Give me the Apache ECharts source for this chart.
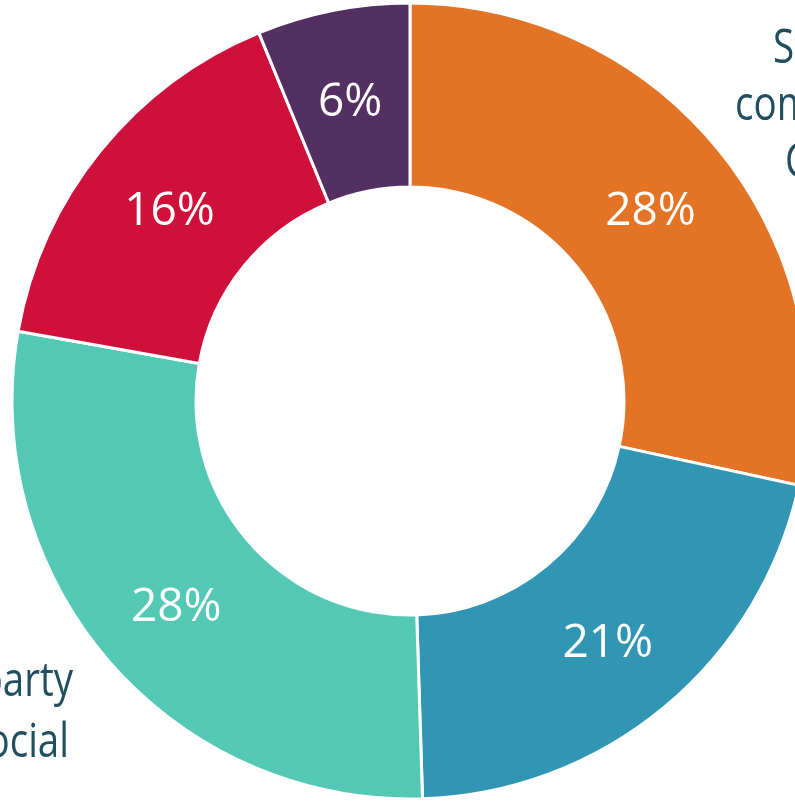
<!DOCTYPE html>
<html>
<head>
<meta charset="utf-8">
<script src="https://cdn.jsdelivr.net/npm/echarts@6/dist/echarts.min.js"></script>
<style>
html,body{margin:0;padding:0;background:#fff;}
#chart{width:795px;height:801px;}
</style>
</head>
<body>
<div id="chart"></div>
<script>
var categories = ['Stand-alone commercial CRM', 'Integrated platform', 'Third party social', 'In-house built', 'Other'];
var values = [28.4, 21.1, 28.3, 16.0, 6.2];
var colors = ['#E37325', '#3196B4', '#53C9B5', '#CF103B', '#532F62'];
var outerLabelLinesTR = ['Stand-alone', 'commercial', 'CRM'];
var outerLabelLinesBL = ['Third party', 'social'];

var chart = echarts.init(document.getElementById('chart'));
var labelFont = '"Open Sans", "Liberation Sans", sans-serif';
var textColor = '#20505F';

var data = categories.map(function (c, i) {
  return { name: c, value: values[i], itemStyle: { color: colors[i] } };
});

function txt(x, y, align, s) {
  return {
    type: 'text', x: x, y: y, scaleX: 0.82, scaleY: 1,
    style: { text: s, fontSize: 47, fontFamily: labelFont, fill: textColor, align: align, verticalAlign: 'top' }
  };
}

var graphics = [
  txt(773, 26, 'left', outerLabelLinesTR[0]),
  txt(735, 83, 'left', outerLabelLinesTR[1]),
  txt(785, 140, 'left', outerLabelLinesTR[2]),
  txt(73, 659, 'right', outerLabelLinesBL[0]),
  txt(69, 720, 'right', outerLabelLinesBL[1])
];

chart.setOption({
  animation: false,
  backgroundColor: '#ffffff',
  graphic: graphics,
  series: [{
    type: 'pie',
    center: [410, 401],
    radius: [214, 398],
    startAngle: 90,
    clockwise: true,
    avoidLabelOverlap: false,
    itemStyle: { borderColor: '#ffffff', borderWidth: 3 },
    label: {
      show: true,
      position: 'inside',
      color: '#ffffff',
      fontSize: 46,
      offset: [0, 5],
      fontFamily: labelFont,
      formatter: function (p) { return Math.round(p.value) + '%'; }
    },
    labelLine: { show: false },
    emphasis: { disabled: true },
    data: data
  }]
});
</script>
</body>
</html>
